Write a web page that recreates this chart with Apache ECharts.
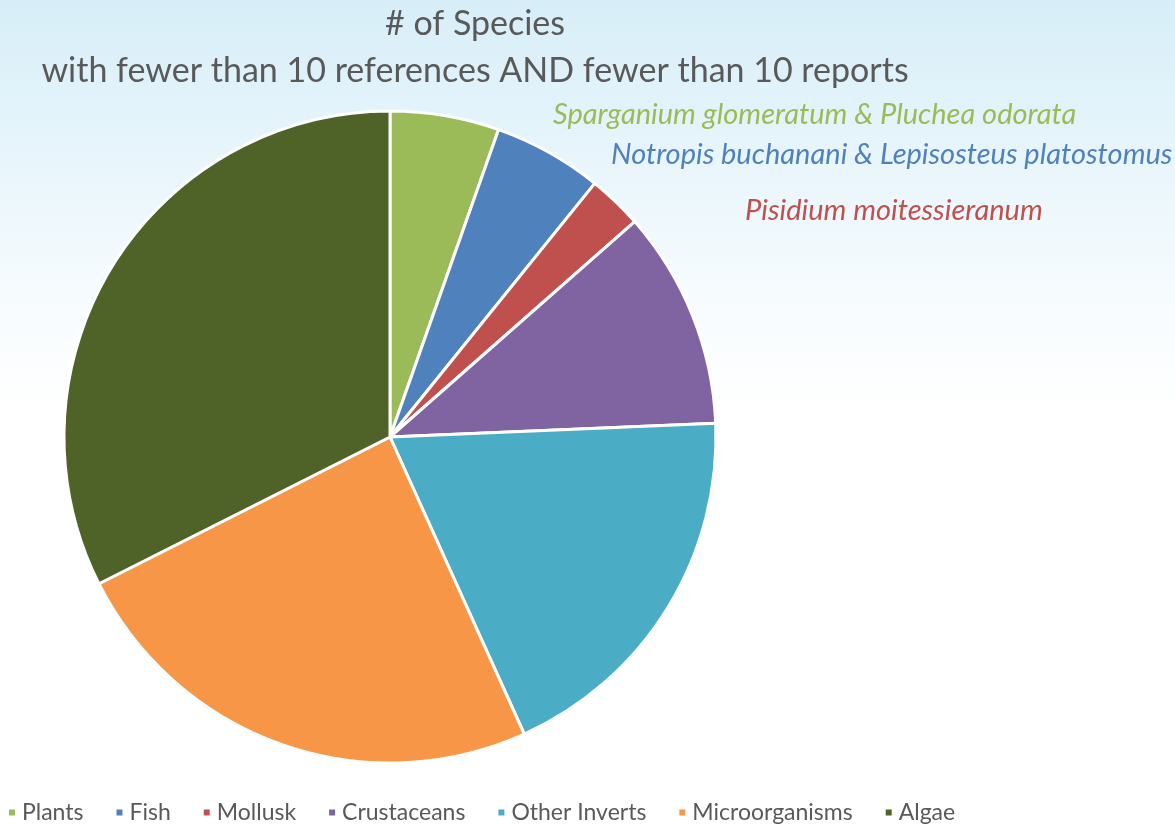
<!DOCTYPE html>
<html>
<head>
<meta charset="utf-8">
<script src="https://cdn.jsdelivr.net/npm/echarts@6/dist/echarts.min.js"></script>
<style>
  html, body { margin: 0; padding: 0; }
  #chart { width: 1175px; height: 825px; }
</style>
</head>
<body>
<div id="chart"></div>
<script>
// Species counts per group
const categories = ['Plants', 'Fish', 'Mollusk', 'Crustaceans', 'Other Inverts', 'Microorganisms', 'Algae'];
const speciesCounts = [2, 2, 1, 4, 7, 9, 12];
const colors = ['#9BBB59', '#4F81BD', '#C0504D', '#8064A2', '#4BACC6', '#F79646', '#4F6228'];

// Named species for the smallest groups
const notes = [
  { text: 'Sparganium glomeratum & Pluchea odorata', color: '#9BBB59', x: 553, y: 115 },
  { text: 'Notropis buchanani & Lepisosteus platostomus', color: '#4F81BD', x: 611, y: 155 },
  { text: 'Pisidium moitessieranum', color: '#C0504D', x: 745, y: 211 }
];

const FONT = 'Lato, "Open Sans", sans-serif';

const chart = echarts.init(document.getElementById('chart'));

chart.setOption({
  backgroundColor: {
    type: 'linear', x: 0, y: 0, x2: 0, y2: 1,
    colorStops: [
      { offset: 0, color: '#d7eef8' },
      { offset: 0.35, color: '#f6fbfe' },
      { offset: 0.5, color: '#ffffff' },
      { offset: 1, color: '#ffffff' }
    ]
  },
  color: colors,
  title: {
    text: '# of Species\nwith fewer than 10 references AND fewer than 10 reports',
    left: 470,
    textAlign: 'center',
    top: -4,
    textStyle: {
      color: '#595959',
      fontFamily: FONT,
      fontWeight: 'normal',
      fontSize: 34,
      lineHeight: 47
    }
  },
  legend: {
    bottom: -4,
    left: 2,
    itemWidth: 8,
    itemHeight: 8,
    itemGap: 31,
    icon: 'rect',
    textStyle: { color: '#595959', fontFamily: FONT, fontSize: 23, padding: [0, 0, 0, 1] },
    data: categories
  },
  graphic: notes.map(n => ({
    type: 'text',
    x: n.x,
    y: n.y,
    style: {
      text: n.text,
      fill: n.color,
      verticalAlign: 'middle',
      font: 'italic 29px ' + FONT
    }
  })),
  series: [{
    type: 'pie',
    center: [390, 437],
    radius: 326,
    startAngle: 90,
    clockwise: true,
    label: { show: false },
    labelLine: { show: false },
    emphasis: { disabled: true },
    itemStyle: { borderColor: '#ffffff', borderWidth: 3 },
    data: categories.map((c, i) => ({ name: c, value: speciesCounts[i] }))
  }]
});
</script>
</body>
</html>
